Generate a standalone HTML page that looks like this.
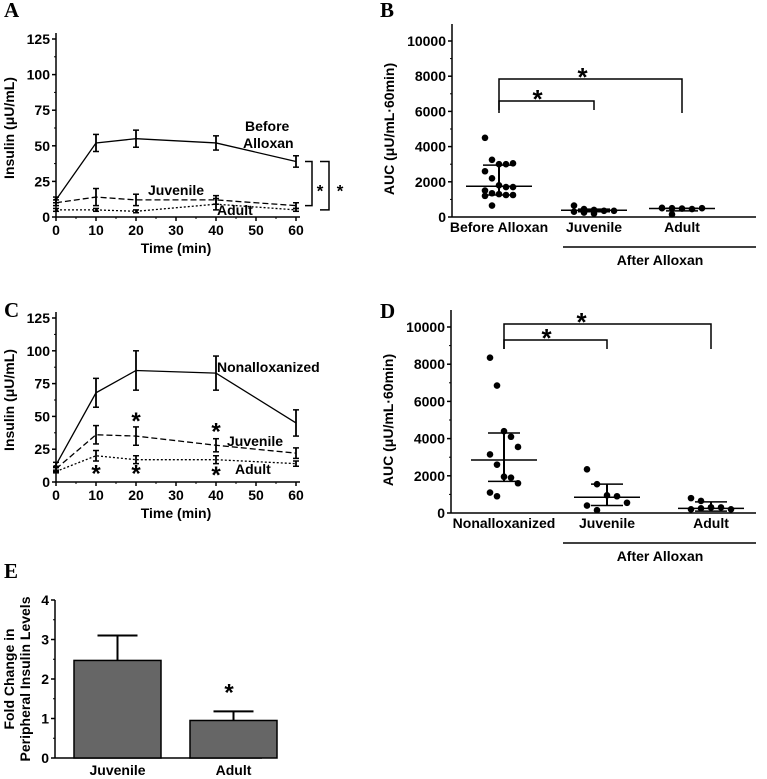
<!DOCTYPE html>
<html><head><meta charset="utf-8"><style>
html,body{margin:0;padding:0;background:#fff}
svg{display:block}
text{font-family:"Liberation Sans",Arial,sans-serif;font-weight:bold;fill:#000}
.lt{font-family:"Liberation Serif",serif;font-size:21px}
</style></head><body>
<svg id="fig" width="767" height="779" viewBox="0 0 767 779" xmlns="http://www.w3.org/2000/svg"></svg>
<script>
// Panel A data
const timesA=[0,10,20,40,60];
const beforeA=[12,52,55,52,39]; const beforeErrA=[2,6,6,5,4];
const juvA=[10,14,12,12,8]; const juvErrA=[2,6,4,3,2];
const adultA=[5,5,4,9,5]; const adultErrA=[1,1,1,4,1];
const yTicksA=[0,25,50,75,100,125]; const xTicks=[0,10,20,30,40,50,60];
// Panel B data
const catsB=["Before Alloxan","Juvenile","Adult"];
const beforeB=[4500,3250,3000,3000,3050,2600,2200,1800,1700,1700,1500,1350,1300,1250,1250,1200,650];
const juvB=[650,450,400,350,350,300,250,200];
const adultB=[500,500,480,450,500,520,150];
const medB=[1750,380,480]; const q1B=[1250,300,350]; const q3B=[2950,450,500];
const yTicksB=[0,2000,4000,6000,8000,10000];
// Panel C data
const nonC=[13,68,85,83,45]; const nonErrC=[2,11,15,13,10];
const juvC=[10,36,35,28,22]; const juvErrC=[2,7,7,5,4];
const adultC=[8,20,17,17,14]; const adultErrC=[1,4,3,3,2];
// Panel D data
const catsD=["Nonalloxanized","Juvenile","Adult"];
const nonD=[8350,6850,4400,4100,3550,3150,2600,1950,1900,1600,1100,900];
const juvD=[2350,1550,950,900,550,400,150];
const adultD=[800,650,300,300,200,200,250,300];
const medD=[2850,850,250]; const q1D=[1700,400,100]; const q3D=[4300,1550,600];
// Panel E data
const catsE=["Juvenile","Adult"]; const valsE=[2.47,0.95]; const errE=[0.63,0.23]; const yTicksE=[0,1,2,3,4];

const svg=document.getElementById('fig');
const NS='http://www.w3.org/2000/svg';
const FS=14;
function el(tag,attrs,parent){const e=document.createElementNS(NS,tag);for(const k in attrs)e.setAttribute(k,attrs[k]);(parent||svg).appendChild(e);return e;}
function txt(x,y,s,size,anchor,parent){const t=el('text',{x:x,y:y,'font-size':size,'text-anchor':anchor||'middle'},parent);t.textContent=s;return t;}
function ln(x1,y1,x2,y2,w,parent,dash){const a={x1:x1,y1:y1,x2:x2,y2:y2,stroke:'#000','stroke-width':w||1.5};if(dash)a['stroke-dasharray']=dash;return el('line',a,parent);}

function yAxis(g,x,y0,y1,ticks,sc,minor){ln(x,y0,x,y1,1.5,g);ticks.forEach(v=>{const y=sc(v);ln(x-4,y,x,y,1.5,g);txt(x-6,y+5,String(v),FS,'end',g);});
 if(minor){for(let i=0;i<ticks.length-1;i++){const m=(ticks[i]+ticks[i+1])/2;ln(x-2,sc(m),x,sc(m),1,g);}}}

function linePanel(name,y0px,y125px,series,labels,letter,letterY){
 const g=el('g',{});  
 const sx=v=>56+v*4; const sy=v=>y0px-(v/125)*(y0px-y125px);
 yAxis(g,56,y0px,y125px-6,yTicksA,sy,true);
 ln(56,y0px,300,y0px,1.5,g);
 xTicks.forEach(v=>{ln(sx(v),y0px,sx(v),y0px+4,1.5,g);txt(sx(v),y0px+18,String(v),FS,'middle',g);});
 for(let v=5;v<60;v+=10)ln(sx(v),y0px,sx(v),y0px+2,1,g);
 txt(176,y0px+36,'Time (min)',FS,'middle',g);
 const yl=txt(0,0,'Insulin (\u03bcU/mL)',FS,'middle',g); yl.setAttribute('transform',`translate(14,${(y0px+y125px)/2}) rotate(-90)`);
 series.forEach(s=>{
  const sg=el('g',{},g);  
  const pts=timesA.map((t,i)=>sx(t)+','+sy(s.v[i])).join(' ');
  const a={points:pts,fill:'none',stroke:'#000','stroke-width':1.3}; if(s.dash)a['stroke-dasharray']=s.dash;
  el('polyline',a,sg);
  timesA.forEach((t,i)=>{const x=sx(t),yt=sy(s.v[i]+s.e[i]),yb=sy(s.v[i]-s.e[i]);ln(x,yt,x,yb,1.8,sg);ln(x-3,yt,x+3,yt,1.5,sg);ln(x-3,yb,x+3,yb,1.5,sg);});
 });
 labels.forEach(l=>txt(l[0],l[1],l[2],l[3]||FS,l[4]||'start',g));
 const L=txt(4,letterY,letter,21,'start',g); L.setAttribute('class','lt');
 return {g,sx,sy};
}
const A=linePanel('panel-a-line-chart',217,39,[
 {name:'before-alloxan-series',v:beforeA,e:beforeErrA},
 {name:'juvenile-series',v:juvA,e:juvErrA,dash:'6,3'},
 {name:'adult-series',v:adultA,e:adultErrA,dash:'2,2'}],
 [[245,131,'Before'],[243,148,'Alloxan'],[148,195,'Juvenile'],[217,215,'Adult']],'A',17);
[[305,A.sy(39),A.sy(8),312,'*',320],[320,A.sy(39),A.sy(5),329,'*',340]].forEach(b=>{
 const bg=el('g',{},A.g);  
 el('polyline',{points:`${b[0]},${b[1]} ${b[3]},${b[1]} ${b[3]},${b[2]} ${b[0]},${b[2]}`,fill:'none',stroke:'#000','stroke-width':1.5},bg);
 txt(b[5],A.sy(20)+8,'*',17,'middle',bg);});
const C=linePanel('panel-c-line-chart',482,318,[
 {name:'nonalloxanized-series',v:nonC,e:nonErrC},
 {name:'juvenile-series',v:juvC,e:juvErrC,dash:'6,3'},
 {name:'adult-series',v:adultC,e:adultErrC,dash:'2,2'}],
 [[217,372,'Nonalloxanized'],[227,446,'Juvenile'],[235,474,'Adult']],'C',317);
[[10,8],[20,8],[40,7],[20,48],[40,40]].forEach(s=>{txt(C.sx(s[0]),C.sy(s[1])+10,'*',24,'middle',C.g);});

function scatterPanel(name,ax,y0px,y10k,cats,cx,groups,med,q1,q3,letter,letterY,brackets){
 const g=el('g',{});  
 const sy=v=>y0px-(v/10000)*(y0px-y10k);
 yAxis(g,ax,y0px,y10k-17,yTicksB,sy,true);
 ln(ax,y0px,756,y0px,1.5,g);
 cats.forEach((c,i)=>txt(cx[i],y0px+15,c,FS,'middle',g));
 const yl=txt(0,0,'AUC (\u03bcU/mL\u00b760min)',FS,'middle',g); yl.setAttribute('transform',`translate(${ax-58},${(y0px+y10k)/2}) rotate(-90)`);
 ln(563,y0px+30,756,y0px+30,1.5,g); txt(660,y0px+48,'After Alloxan',FS,'middle',g);
 groups.forEach((vals,gi)=>{
  const sg=el('g',{},g);  
  const x=cx[gi];
  ln(x-33,sy(med[gi]),x+33,sy(med[gi]),1.5,sg);
  ln(x-16,sy(q1[gi]),x+16,sy(q1[gi]),1.5,sg);ln(x-16,sy(q3[gi]),x+16,sy(q3[gi]),1.5,sg);ln(x,sy(q1[gi]),x,sy(q3[gi]),2,sg);
  const spread=gi===0?7:10;
  vals.forEach((v,i)=>{const off=((i%5)-2)*spread;const d=el('circle',{cx:x+off,cy:sy(v),r:3.3,fill:'#000'},sg);});
 });
 brackets.forEach(b=>{const bg=el('g',{},g);
  el('polyline',{points:`${cx[0]},${b[2]} ${cx[0]},${b[0]} ${cx[b[1]]},${b[0]} ${cx[b[1]]},${b[2]}`,fill:'none',stroke:'#000','stroke-width':1.5},bg);
  txt((cx[0]+cx[b[1]])/2-b[3],b[0]+7,'*',26,'middle',bg);});
 const L=txt(380,letterY,letter,21,'start',g); L.setAttribute('class','lt');
}
scatterPanel('panel-b-scatter-chart',452,217,41,catsB,[499,594,682],[beforeB,juvB,adultB],medB,q1B,q3B,'B',17,
 [[101,1,110,9],[79,2,113,8]]);
scatterPanel('panel-d-scatter-chart',451,513,327,catsD,[504,607,711],[nonD,juvD,adultD],medD,q1D,q3D,'D',318,
 [[340,1,349,9],[324,2,349,26]]);

(function(){
 const g=el('g',{});  
 const y0=758,y4=600; const sy=v=>y0-(v/4)*(y0-y4);
 yAxis(g,55,y0,y4,yTicksE,sy,true);
 ln(55,y0,262,y0,1.5,g);
 const bx=[74,190];
 catsE.forEach((c,i)=>{
  const bg=el('g',{},g);  
  el('rect',{x:bx[i],y:sy(valsE[i]),width:87,height:y0-sy(valsE[i]),fill:'#666',stroke:'#000','stroke-width':1.5},bg);
  const xm=bx[i]+43.5,yt=sy(valsE[i]+errE[i]);
  ln(xm,sy(valsE[i]),xm,yt,2,bg); ln(xm-20,yt,xm+20,yt,2,bg);
  txt(xm,y0+17,c,FS,'middle',g);
 });
 txt(229,sy(1.45),'*',24,'middle',g);
 const y1=txt(0,0,'Fold Change in',FS,'middle',g);y1.setAttribute('transform','translate(14,679) rotate(-90)');
 const y2=txt(0,0,'Peripheral Insulin Levels',FS,'middle',g);y2.setAttribute('transform','translate(30,679) rotate(-90)');
 const L=txt(4,578,'E',21,'start',g); L.setAttribute('class','lt');
})();
</script>
</body></html>
